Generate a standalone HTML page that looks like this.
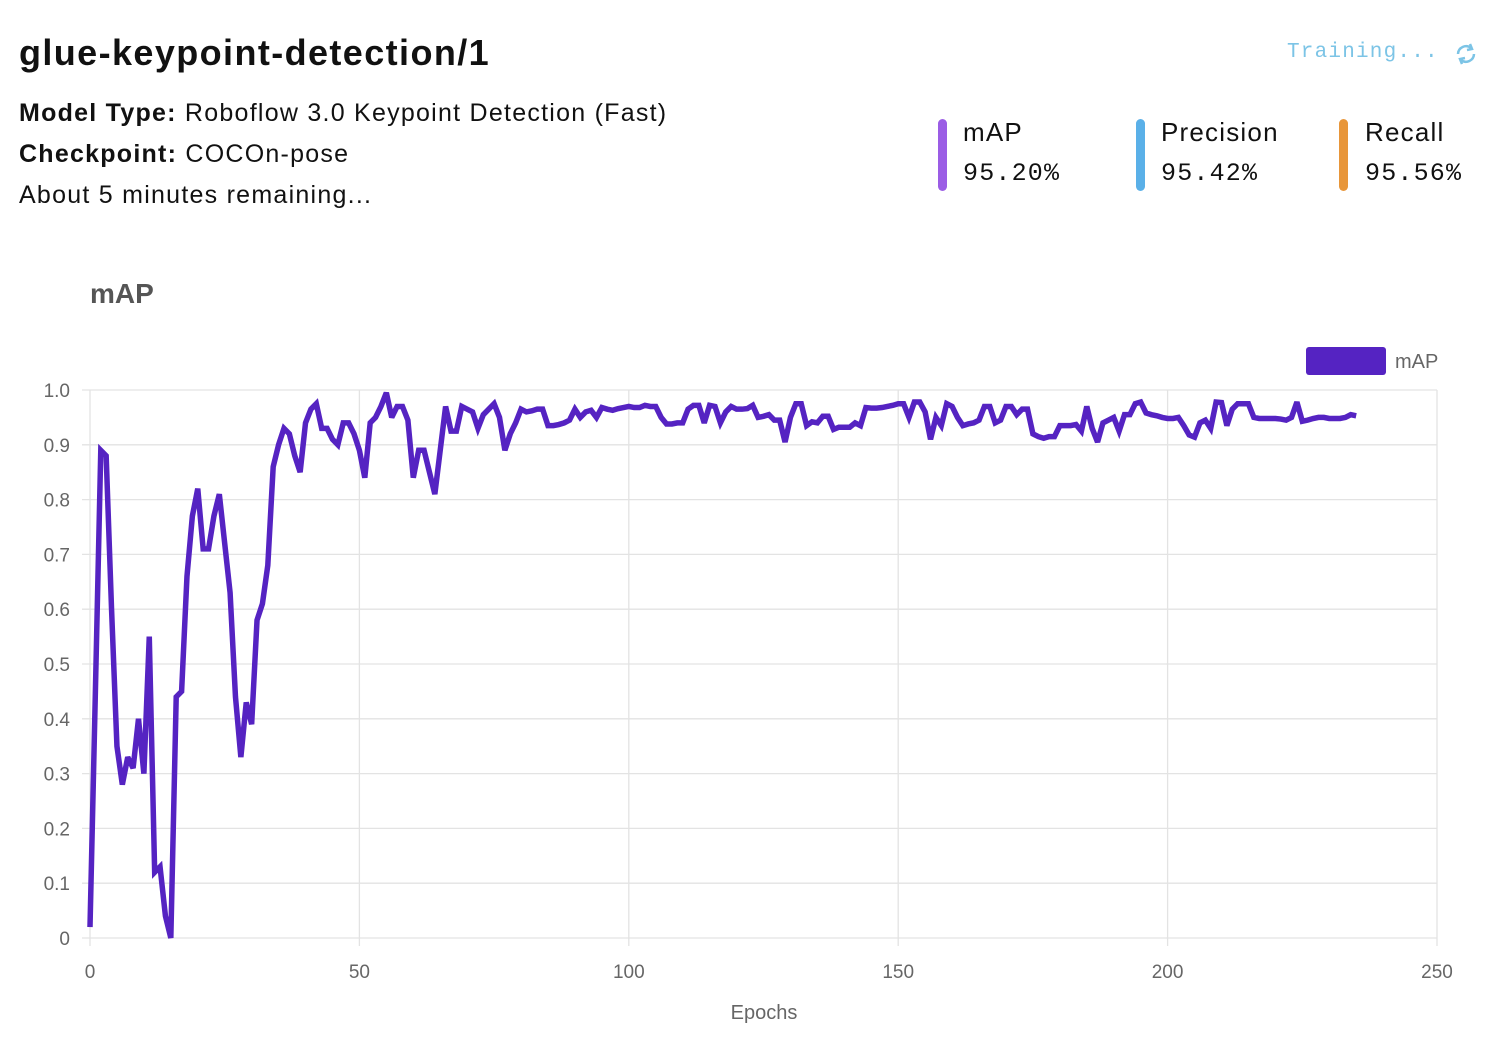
<!DOCTYPE html>
<html><head><meta charset="utf-8"><style>
body{margin:0;width:1502px;height:1050px;background:#fff;font-family:"Liberation Sans",sans-serif;position:relative;overflow:hidden;color:#111}
.a{position:absolute;white-space:nowrap}
.mono{font-family:"Liberation Mono",monospace}
.bar{position:absolute;width:9px;border-radius:5px;top:119px;height:72px}
</style></head><body>
<div class="a" style="left:19px;top:32px;font-size:36px;font-weight:bold;letter-spacing:1.4px">glue-keypoint-detection/1</div>
<div class="a" style="left:19px;top:99px;font-size:25px;letter-spacing:1.25px"><b>Model Type:</b> Roboflow 3.0 Keypoint Detection (Fast)</div>
<div class="a" style="left:19px;top:140px;font-size:25px;letter-spacing:1.25px"><b>Checkpoint:</b> COCOn-pose</div>
<div class="a" style="left:19px;top:181px;font-size:25px;letter-spacing:1.25px">About 5 minutes remaining...</div>
<div class="a mono" style="left:1287px;top:41px;font-size:21px;color:#7cc4e6;letter-spacing:1.2px">Training...</div>
<svg class="a" style="left:1453px;top:41px" width="26" height="26" viewBox="0 0 26 26"><path d="M5 13a8 8 0 0 1 13-6M21 13a8 8 0 0 1-13 6" stroke="#7cc4e6" stroke-width="2.5" fill="none"/><path d="M17 3l2 5-5 1M9 23l-2-5 5-1" stroke="#7cc4e6" stroke-width="2.5" fill="none"/></svg>
<div class="bar" style="left:938px;background:#9b5de5"></div>
<div class="a" style="left:963px;top:117px;font-size:26px;letter-spacing:1.2px">mAP</div>
<div class="a mono" style="left:963px;top:159px;font-size:25px;letter-spacing:1.2px">95.20%</div>
<div class="bar" style="left:1136px;background:#5ab0e8"></div>
<div class="a" style="left:1161px;top:117px;font-size:26px;letter-spacing:1.2px">Precision</div>
<div class="a mono" style="left:1161px;top:159px;font-size:25px;letter-spacing:1.2px">95.42%</div>
<div class="bar" style="left:1339px;background:#e8963a"></div>
<div class="a" style="left:1365px;top:117px;font-size:26px;letter-spacing:1.2px">Recall</div>
<div class="a mono" style="left:1365px;top:159px;font-size:25px;letter-spacing:1.2px">95.56%</div>
<div class="a" style="left:90px;top:278px;font-size:28px;font-weight:bold;color:#555">mAP</div>
<svg id="chart" class="a" style="left:0;top:0" width="1502" height="1050"></svg>
<script>
const xTicks=[0,50,100,150,200,250];
const yTicks=[0,0.1,0.2,0.3,0.4,0.5,0.6,0.7,0.8,0.9,1.0];
const yTickLabels=["0","0.1","0.2","0.3","0.4","0.5","0.6","0.7","0.8","0.9","1.0"];
const mapValues=[0.02,0.45,0.89,0.88,0.6,0.35,0.28,0.33,0.31,0.4,0.3,0.55,0.12,0.13,0.04,0.0,0.44,0.45,0.66,0.77,0.82,0.71,0.71,0.77,0.81,0.72,0.63,0.44,0.33,0.43,0.39,0.58,0.61,0.68,0.86,0.9,0.93,0.92,0.88,0.85,0.94,0.965,0.975,0.93,0.93,0.91,0.9,0.94,0.94,0.92,0.89,0.84,0.94,0.95,0.97,0.995,0.95,0.97,0.97,0.945,0.84,0.89,0.89,0.85,0.81,0.89,0.97,0.925,0.925,0.97,0.965,0.96,0.93,0.955,0.965,0.975,0.95,0.89,0.92,0.94,0.965,0.96,0.962,0.965,0.965,0.935,0.935,0.937,0.94,0.945,0.965,0.95,0.96,0.963,0.95,0.968,0.965,0.963,0.966,0.968,0.97,0.968,0.968,0.972,0.97,0.97,0.95,0.938,0.938,0.94,0.94,0.965,0.972,0.972,0.94,0.972,0.97,0.94,0.96,0.97,0.965,0.965,0.966,0.972,0.95,0.952,0.955,0.945,0.945,0.905,0.95,0.975,0.975,0.935,0.942,0.94,0.952,0.952,0.928,0.932,0.932,0.932,0.94,0.935,0.968,0.967,0.967,0.968,0.97,0.972,0.975,0.975,0.95,0.978,0.978,0.96,0.91,0.95,0.935,0.975,0.97,0.95,0.935,0.938,0.94,0.945,0.97,0.97,0.94,0.945,0.97,0.97,0.955,0.965,0.965,0.92,0.915,0.912,0.915,0.915,0.935,0.935,0.935,0.937,0.925,0.97,0.93,0.905,0.94,0.945,0.95,0.925,0.955,0.955,0.975,0.978,0.958,0.955,0.953,0.95,0.948,0.948,0.95,0.935,0.918,0.914,0.94,0.945,0.93,0.978,0.977,0.935,0.965,0.975,0.975,0.975,0.95,0.948,0.948,0.948,0.948,0.947,0.945,0.95,0.978,0.943,0.945,0.948,0.95,0.95,0.948,0.948,0.948,0.95,0.955,0.953];
const NS="http://www.w3.org/2000/svg";
const svg=document.getElementById('chart');
const X0=90,X1=1437,Y0=938,Y1=390;
const xs=v=>X0+(X1-X0)*v/250;
const ys=v=>Y0-(Y0-Y1)*v;
function mk(t,a){const e=document.createElementNS(NS,t);for(const k in a)e.setAttribute(k,a[k]);svg.appendChild(e);return e;}
yTicks.forEach((t,i)=>{
 const l=mk('line',{x1:X0-8,x2:X1,y1:ys(t),y2:ys(t),stroke:'#e3e3e3','stroke-width':1.3});
 
 
 const tx=mk('text',{x:70,y:ys(t)+7,'text-anchor':'end','font-size':19,fill:'#666','font-family':'Liberation Sans, sans-serif'});
 tx.textContent=yTickLabels[i];
 
 
});
xTicks.forEach(t=>{
 const l=mk('line',{x1:xs(t),x2:xs(t),y1:Y1,y2:Y0+8,stroke:'#e3e3e3','stroke-width':1.3});
 
 
 const tx=mk('text',{x:xs(t),y:978,'text-anchor':'middle','font-size':19,fill:'#666','font-family':'Liberation Sans, sans-serif'});
 tx.textContent=String(t);
 
 
});
const xt=mk('text',{x:764,y:1019,'text-anchor':'middle','font-size':20,fill:'#666','font-family':'Liberation Sans, sans-serif'});
xt.textContent='Epochs';


const pts=mapValues.map((v,i)=>xs(i).toFixed(2)+','+ys(v).toFixed(2)).join(' ');
const pl=mk('polyline',{points:pts,fill:'none',stroke:'#5523c2','stroke-width':5.5,'stroke-linejoin':'miter','stroke-miterlimit':3});


const lb=mk('rect',{x:1306,y:347,width:80,height:28,rx:3,fill:'#5523c2'});


const lt=mk('text',{x:1395,y:368,'font-size':20,fill:'#666','font-family':'Liberation Sans, sans-serif'});
lt.textContent='mAP';


</script>
</body></html>
